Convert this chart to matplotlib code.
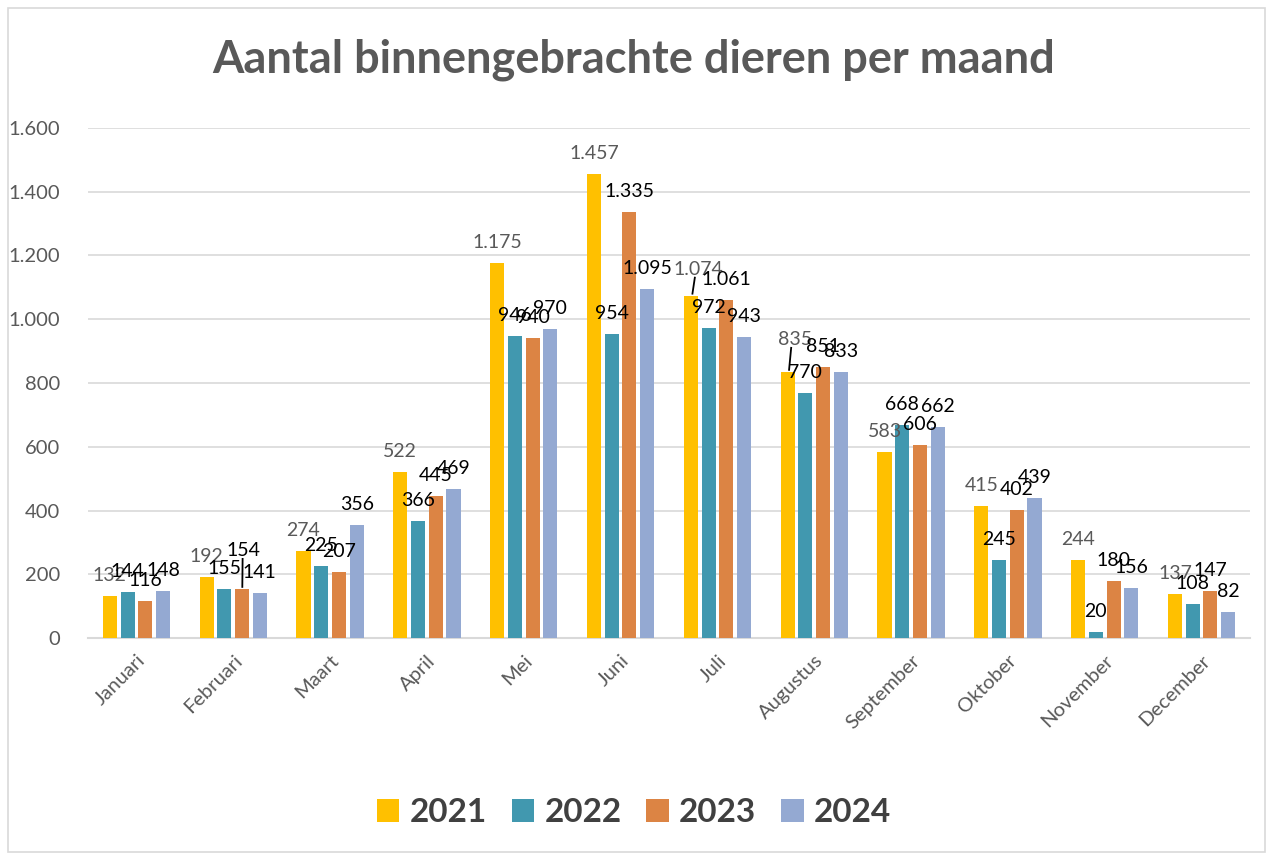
import numpy as np
import matplotlib
matplotlib.use('Agg')
import matplotlib.pyplot as plt
from matplotlib.patches import Rectangle

plt.rcParams['font.family'] = ['Lato', 'DejaVu Sans']

maanden = ['Januari', 'Februari', 'Maart', 'April', 'Mei', 'Juni', 'Juli',
           'Augustus', 'September', 'Oktober', 'November', 'December']
jaren = ['2021', '2022', '2023', '2024']
v2021 = [132, 192, 274, 522, 1175, 1457, 1074, 835, 583, 415, 244, 137]
v2022 = [144, 155, 225, 366, 946, 954, 972, 770, 668, 245, 20, 108]
v2023 = [116, 154, 207, 445, 940, 1335, 1061, 851, 606, 402, 180, 147]
v2024 = [148, 141, 356, 469, 970, 1095, 943, 833, 662, 439, 156, 82]
reeksen = [v2021, v2022, v2023, v2024]

kleuren = ['#FFC000', '#4198AF', '#DC8444', '#94A9D2']
label_kleur = ['#595959', 'black', 'black', 'black']

# labels that were dragged in the original chart: (serie, maand) -> offset in pixels
verschoven = {(2, 1): (1, 18), (0, 6): (8, 6), (0, 7): (7, 12)}

fig = plt.figure(figsize=(12.68, 8.56), dpi=100)
ax = fig.add_axes([88 / 1268, 218 / 856, 1162 / 1268, 510 / 856])
ax.set_xlim(-0.5, 11.5)
ax.set_ylim(0, 1600)

x = np.arange(len(maanden))
stap = 0.183
breedte = 0.145
basis = 12
for i, (jaar, vals) in enumerate(zip(jaren, reeksen)):
    pos = x + (i - 1.5) * stap
    ax.bar(pos, vals, width=breedte, color=kleuren[i], label=jaar, zorder=3)
    for j, (px, v) in enumerate(zip(pos, vals)):
        dx, dy = verschoven.get((i, j), (0, 0))
        tekst = f'{v:,}'.replace(',', '.')
        ax.annotate(tekst, (px, v), xytext=(dx, basis + dy), textcoords='offset pixels',
                    ha='center', va='bottom', fontsize=14, color=label_kleur[i], zorder=4)

# leader lines for dragged labels
for (i, j), (dx, dy) in verschoven.items():
    px = x[j] + (i - 1.5) * stap
    v = reeksen[i][j]
    disp = ax.transData.transform((px, v))
    a = ax.transData.inverted().transform((disp[0] + dx * 0.2, disp[1] + 2))
    b = ax.transData.inverted().transform((disp[0] + dx * 0.5, disp[1] + basis + dy))
    ax.plot([a[0], b[0]], [a[1], b[1]], color='black', lw=1.3, zorder=4)

ax.set_yticks(np.arange(0, 1601, 200))
ax.set_yticklabels([f'{t:,}'.replace(',', '.') for t in range(0, 1601, 200)])
ax.set_xticks(x)
ax.set_xticklabels(maanden, rotation=45, ha='right', va='top', rotation_mode='anchor')
ax.tick_params(axis='both', length=0, labelsize=14.5, labelcolor='#595959')
ax.tick_params(axis='x', pad=10)
ax.tick_params(axis='y', pad=20)
ax.grid(axis='y', color='#D9D9D9', lw=1.2, zorder=0)
for s in ['top', 'right', 'left']:
    ax.spines[s].set_visible(False)
ax.spines['bottom'].set_color('#D9D9D9')
ax.spines['bottom'].set_linewidth(1.5)

fig.text(0.5, 1 - 60 / 856, 'Aantal binnengebrachte dieren per maand', ha='center', va='center',
         fontsize=32.5, fontweight='bold', color='#595959')

leg = fig.legend(loc='center', bbox_to_anchor=(0.5, 1 - 813 / 856), ncol=4, frameon=False,
                 prop={'size': 24, 'weight': 'bold'}, handlelength=0.68, handleheight=0.68,
                 columnspacing=0.75, handletextpad=0.3)
for t in leg.get_texts():
    t.set_color('#404040')

fig.patches.append(Rectangle((8 / 1268, 4 / 856), 1257 / 1268, 844 / 856, transform=fig.transFigure,
                             fill=False, edgecolor='#D9D9D9', lw=1.2))

fig.savefig('out.png', dpi=100)
